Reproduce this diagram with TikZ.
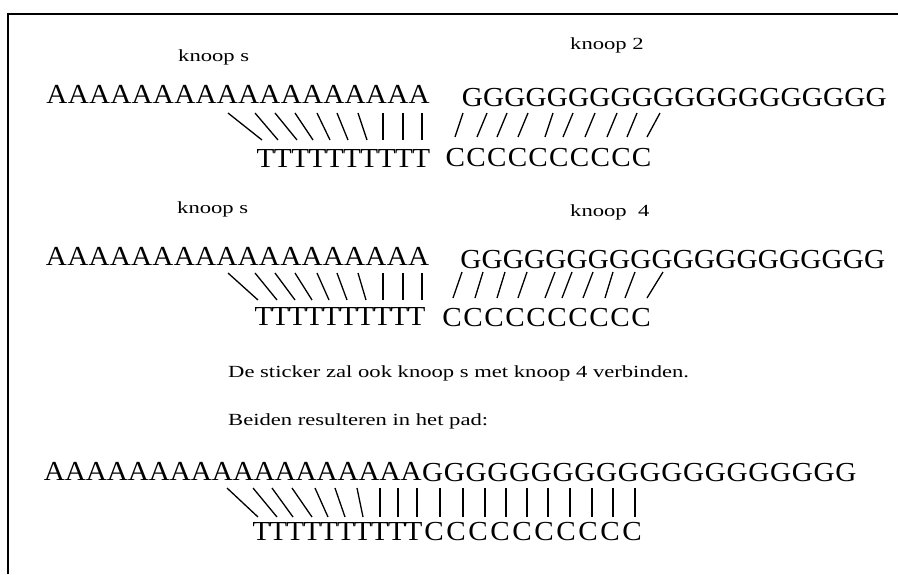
\documentclass[tikz,border=0pt]{standalone}
\usepackage{fontspec}
\setmainfont{Liberation Serif}
\newfontfamily\labfont{Liberation Serif}[FakeStretch=1.33]
\newfontfamily\seqfont{Liberation Serif}[FakeStretch=1.06]
\begin{document}
\begin{tikzpicture}[x=1pt,y=-1pt,
  seq/.style={inner sep=0pt, anchor=base, font=\seqfont\fontsize{27.5}{30}\selectfont},
  lab/.style={inner sep=0pt, anchor=base west, font=\labfont\fontsize{17}{20}\selectfont},
  pair/.style={line width=1.3pt},
  frame/.style={line width=2pt}]
\useasboundingbox (0,0) rectangle (898,574);

% open frame: left and top edges
\coordinate (fa) at (8,574);
\coordinate (fb) at (8,14);
\coordinate (fc) at (898,14);
\draw[frame] (fa) -- (fb) -- (fc);

% ---------- first pairing: knoop s with knoop 2 ----------
\node[lab] (ks1) at (178,61) {knoop s};
\node[lab] (k2) at (570,49) {knoop 2};
\foreach \i in {0,...,17} \node[seq] (a1-\i) at ({57+21.3*\i},103) {A};
\foreach \i in {0,...,19} \node[seq] (g1-\i) at ({472.3+21.25*\i},106) {G};
\foreach \i in {0,...,9} \node[seq] (t1-\i) at ({265.6+17.3*\i},167) {T};
\foreach \i in {0,...,9} \node[seq] (c1-\i) at ({455.4+20.7*\i},166) {C};
\foreach \t/\b [count=\k] in {228/262,255/278,275/297,295/313,317/330,337/348,358/367,383/383,403/403,422/422} {
  \coordinate (u1-\k) at (\t,113); \coordinate (l1-\k) at (\b,140);
  \draw[pair] (u1-\k) -- (l1-\k);
}
\foreach \t/\b [count=\k] in {463/455,487/477,507/497,528/518,553/545,573/563,595/585,617/607,637/627,660/647} {
  \coordinate (v1-\k) at (\t,113); \coordinate (w1-\k) at (\b,137);
  \draw[pair] (v1-\k) -- (w1-\k);
}

% ---------- second pairing: knoop s with knoop 4 ----------
\node[lab] (ks2) at (177,213) {knoop s};
\node[lab] (k4) at (570,216) {knoop\ \ 4};
\foreach \i in {0,...,17} \node[seq] (a2-\i) at ({56.5+21.3*\i},265) {A};
\foreach \i in {0,...,19} \node[seq] (g2-\i) at ({471+21.25*\i},268) {G};
\foreach \i in {0,...,9} \node[seq] (t2-\i) at ({263.5+17*\i},325) {T};
\foreach \i in {0,...,9} \node[seq] (c2-\i) at ({452.2+21*\i},326) {C};
\foreach \t/\b [count=\k] in {228/258,255/277,275/295,295/312,317/329,337/347,358/366,383/383,403/403,422/422} {
  \coordinate (u2-\k) at (\t,273); \coordinate (l2-\k) at (\b,300);
  \draw[pair] (u2-\k) -- (l2-\k);
}
\foreach \t/\b [count=\k] in {462/453,483/475,505/497,527/518,555/545,572/562,593/583,613/605,635/625,663/647} {
  \coordinate (v2-\k) at (\t,272); \coordinate (w2-\k) at (\b,298);
  \draw[pair] (v2-\k) -- (w2-\k);
}

% ---------- explanation ----------
\node[lab] (s1) at (228,377) {De sticker zal ook knoop s met knoop 4 verbinden.};
\node[lab] (s2) at (228,425) {Beiden resulteren in het pad:};

% ---------- resulting path ----------
\foreach \i in {0,...,17} \node[seq] (a3-\i) at ({54.5+20.98*\i},480) {A};
\foreach \i in {0,...,19} \node[seq] (g3-\i) at ({432.6+21.75*\i},481) {G};
\foreach \i in {0,...,9} \node[seq] (t3-\i) at ({261.5+16.9*\i},540) {T};
\foreach \i in {0,...,9} \node[seq] (c3-\i) at ({434+22*\i},540) {C};
\foreach \t/\b [count=\k] in {227/258,253/277,272/293,292/312,315/328,335/345,357/363,380/380,398/398,417/417,440/440,463/463,485/485,506/506,527/527,548/548,570/570,592/592,613/613,635/635} {
  \coordinate (u3-\k) at (\t,488); \coordinate (l3-\k) at (\b,517);
  \draw[pair] (u3-\k) -- (l3-\k);
}
\end{tikzpicture}
\end{document}
